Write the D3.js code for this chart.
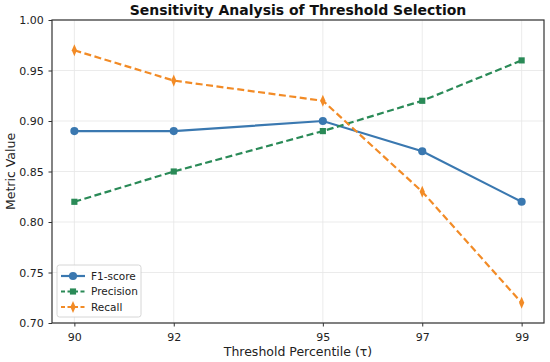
<!DOCTYPE html>
<html lang="en">
<head>
<meta charset="utf-8">
<title>Sensitivity Analysis</title>
<script src="https://d3js.org/d3.v7.min.js"></script>
<style>
  body { margin: 0; background: #fff; }
  svg { display: block; font-family: "DejaVu Sans", sans-serif; }
</style>
</head>
<body>
<svg id="chart" width="550" height="362"></svg>
<script>
// data
var thresholds = [90, 92, 95, 97, 99];
var f1 = [0.89, 0.89, 0.90, 0.87, 0.82];
var precision = [0.82, 0.85, 0.89, 0.92, 0.96];
var recall = [0.97, 0.94, 0.92, 0.83, 0.72];
var yTicks = [0.70, 0.75, 0.80, 0.85, 0.90, 0.95, 1.00];

var series = [
  {name: "F1-score", values: f1, color: "#3a78b0", dash: null, marker: "circle"},
  {name: "Precision", values: precision, color: "#2a8a57", dash: "7,3.5", marker: "square"},
  {name: "Recall", values: recall, color: "#f28b26", dash: "7,3.5", marker: "diamond"}
];

var w = 550, h = 362;
var margin = {top: 20, right: 6, bottom: 39, left: 52};
var innerW = w - margin.left - margin.right;
var innerH = h - margin.top - margin.bottom;

var svg = d3.select("#chart");
var g = svg.append("g").attr("transform", `translate(${margin.left},${margin.top})`);

var x = d3.scaleLinear().domain([89.55, 99.45]).range([0, innerW]);
var y = d3.scaleLinear().domain([0.70, 1.00]).range([innerH, 0]);

// grid
g.append("g").selectAll("line").data(thresholds).enter().append("line")
  .attr("x1", d => x(d)).attr("x2", d => x(d))
  .attr("y1", 0).attr("y2", innerH)
  .attr("stroke", "#e6e6e6").attr("stroke-width", 0.8);
g.append("g").selectAll("line").data(yTicks).enter().append("line")
  .attr("x1", 0).attr("x2", innerW)
  .attr("y1", d => y(d)).attr("y2", d => y(d))
  .attr("stroke", "#e6e6e6").attr("stroke-width", 0.8);

// axes
var xAxis = g.append("g").attr("transform", `translate(0,${innerH})`)
  .call(d3.axisBottom(x).tickValues(thresholds).tickFormat(d3.format("d")).tickSize(3.5).tickSizeOuter(0));
var yAxis = g.append("g")
  .call(d3.axisLeft(y).tickValues(yTicks).tickFormat(d3.format(".2f")).tickSize(3.5).tickSizeOuter(0));
[xAxis, yAxis].forEach(function(a) {
  a.select(".domain").remove();
  a.selectAll("line").attr("stroke", "#333");
  a.selectAll("text").attr("font-size", "11px").attr("fill", "#222").attr("font-family", "DejaVu Sans");
});
xAxis.selectAll("text").attr("dy", "1.05em");
yAxis.selectAll("text").attr("dx", "-0.15em");

// frame
g.append("rect").attr("width", innerW).attr("height", innerH)
  .attr("fill", "none").attr("stroke", "#333").attr("stroke-width", 1.2);

// lines
var line = d3.line().x((d, i) => x(thresholds[i])).y(d => y(d));
var symbols = {circle: d3.symbolCircle, square: d3.symbolSquare, diamond: d3.symbolDiamond};
var sizes = {circle: 52, square: 38, diamond: 42};

series.forEach(function(s) {
  g.append("path").datum(s.values)
    .attr("d", line)
    .attr("fill", "none")
    .attr("stroke", s.color)
    .attr("stroke-width", 2.2)
    .attr("stroke-dasharray", s.dash);
  g.append("g").selectAll("path").data(s.values).enter().append("path")
    .attr("transform", (d, i) => `translate(${x(thresholds[i])},${y(d)})` + (s.marker == "diamond" ? " scale(0.75,1)" : ""))
    .attr("d", d3.symbol().type(symbols[s.marker]).size(sizes[s.marker]))
    .attr("fill", s.color);
});

// legend
var legend = g.append("g").attr("transform", "translate(5,245)");
legend.append("rect").attr("width", 84).attr("height", 52).attr("rx", 2.5)
  .attr("fill", "white").attr("fill-opacity", 0.85).attr("stroke", "#ccc").attr("stroke-width", 0.8);
series.forEach(function(s, i) {
  var ly = 11 + i * 15.5;
  legend.append("line").attr("x1", 4).attr("x2", 28).attr("y1", ly).attr("y2", ly)
    .attr("stroke", s.color).attr("stroke-width", 2.2).attr("stroke-dasharray", s.dash ? "4,2.5" : null);
  legend.append("path")
    .attr("transform", `translate(16,${ly})` + (s.marker == "diamond" ? " scale(0.75,1)" : ""))
    .attr("d", d3.symbol().type(symbols[s.marker]).size(sizes[s.marker]))
    .attr("fill", s.color);
  legend.append("text").attr("x", 34).attr("y", ly).attr("dy", "0.35em")
    .attr("font-size", "10.5px").attr("fill", "#222").text(s.name);
});

// labels
svg.append("text").attr("x", margin.left + innerW / 2).attr("y", 15)
  .attr("text-anchor", "middle").attr("font-size", "14px").attr("font-weight", "bold")
  .attr("fill", "#111").text("Sensitivity Analysis of Threshold Selection");
svg.append("text").attr("x", margin.left + innerW / 2).attr("y", 356)
  .attr("text-anchor", "middle").attr("font-size", "12.5px").attr("fill", "#222")
  .text("Threshold Percentile (τ)");
svg.append("text").attr("transform", `translate(15,${margin.top + innerH / 2}) rotate(-90)`)
  .attr("text-anchor", "middle").attr("font-size", "12.5px").attr("fill", "#222")
  .text("Metric Value");
</script>
</body>
</html>
